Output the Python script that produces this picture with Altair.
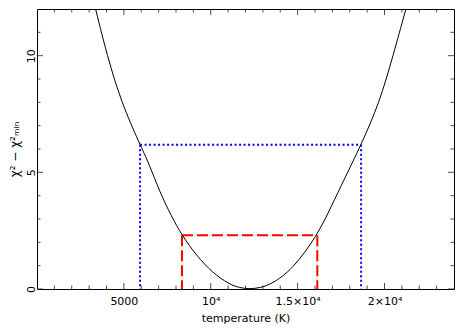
import altair as alt
import pandas as pd

# ---- curve: delta chi^2 versus temperature ----
temperature = [3373, 4038, 4853, 5932, 6430, 7070, 7735, 8343, 9157, 10106,
               11050, 11650, 12250, 12850, 13500, 14700, 16133, 16931, 17688,
               18654, 19717, 20492, 21232]
delta_chi2 = [12.0, 10.0, 8.0, 6.18, 5.40, 4.15, 3.12, 2.30, 1.45, 0.69,
              0.21, 0.05, 0.0, 0.05, 0.21, 0.83, 2.30, 3.53, 4.71,
              6.18, 8.0, 10.0, 12.0]

# ---- confidence intervals ----
ci_names = ["68.3%", "95.4%"]
ci_levels = [2.30, 6.18]
ci_low = [8343, 5932]
ci_high = [16133, 18654]
ci_colors = ["#ff0000", "#0000ff"]
ci_dashes = [[11, 4], [2, 2.5]]

# ---- axes ----
x_domain = [0, 24000]
y_domain = [0, 12]
x_major = [5000, 10000, 15000, 20000]
x_major_labels = ["5000", "10⁴", "1.5×10⁴", "2×10⁴"]
x_minor = [1000, 2000, 3000, 4000, 6000, 7000, 8000, 9000, 11000, 12000,
           13000, 14000, 16000, 17000, 18000, 19000, 21000, 22000, 23000]
y_major = [0, 5, 10]
y_minor = [1, 2, 3, 4, 6, 7, 8, 9, 11]
x_title = "temperature (K)"
y_title = "χ² − χ²ₘᵢₙ"

W, H = 417, 280
FONT = "DejaVu Sans"

xs = alt.Scale(domain=x_domain, nice=False, zero=False)
ys = alt.Scale(domain=y_domain, nice=False, zero=False)

label_expr = " : ".join(
    f"datum.value == {v} ? '{t}'" for v, t in zip(x_major, x_major_labels)
) + " : ''"

x_axis = alt.Axis(values=x_major, labelExpr=label_expr, title=x_title,
                  labelPadding=6, titlePadding=6, labelOverlap=False, labelFlush=False)
y_axis = alt.Axis(values=y_major, title=y_title, labelAngle=270, labelAlign="center",
                  labelBaseline="alphabetic", labelPadding=3, titlePadding=4,
                  labelOverlap=False, labelFlush=False, titleFontSize=12)

curve_df = pd.DataFrame({"T": temperature, "d": delta_chi2})

seg_rows = []
for n, lv, lo, hi in zip(ci_names, ci_levels, ci_low, ci_high):
    seg_rows.append({"name": n, "x": lo, "x2": hi, "y": lv, "y2": lv})
    seg_rows.append({"name": n, "x": lo, "x2": lo, "y": lv, "y2": y_domain[0]})
    seg_rows.append({"name": n, "x": hi, "x2": hi, "y": lv, "y2": y_domain[0]})
seg_df = pd.DataFrame(seg_rows)

xt_rows = []
for kind, vals in (("major", x_major), ("minor", x_minor)):
    for v in vals:
        for e in y_domain:
            xt_rows.append({"v": v, "edge": e, "kind": kind})
xt_df = pd.DataFrame(xt_rows)

yt_rows = []
for kind, vals in (("major", y_major), ("minor", y_minor)):
    for v in vals:
        for e in x_domain:
            yt_rows.append({"v": v, "edge": e, "kind": kind})
yt_df = pd.DataFrame(yt_rows)

tick_size = alt.Size("kind:N", scale=alt.Scale(domain=["major", "minor"], range=[12, 7]), legend=None)

curve = alt.Chart(curve_df).mark_line(
    color="black", strokeWidth=1, interpolate="basis", clip=True
).encode(
    x=alt.X("T:Q", scale=xs, axis=x_axis),
    y=alt.Y("d:Q", scale=ys, axis=y_axis),
)

segments = alt.Chart(seg_df).mark_rule(strokeWidth=2).encode(
    x=alt.X("x:Q", scale=xs, axis=x_axis),
    x2="x2:Q",
    y=alt.Y("y:Q", scale=ys, axis=y_axis),
    y2="y2:Q",
    color=alt.Color("name:N", scale=alt.Scale(domain=ci_names, range=ci_colors), legend=None),
    strokeDash=alt.StrokeDash("name:N", scale=alt.Scale(domain=ci_names, range=ci_dashes), legend=None),
)

xticks = alt.Chart(xt_df).mark_tick(orient="vertical", thickness=1, clip=True, color="black").encode(
    x=alt.X("v:Q", scale=xs, axis=x_axis),
    y=alt.Y("edge:Q", scale=ys, axis=y_axis),
    size=tick_size,
)

yticks = alt.Chart(yt_df).mark_tick(orient="horizontal", thickness=1, clip=True, color="black").encode(
    y=alt.Y("v:Q", scale=ys, axis=y_axis),
    x=alt.X("edge:Q", scale=xs, axis=x_axis),
    size=tick_size,
)

chart = alt.layer(segments, curve, xticks, yticks).properties(
    width=W, height=H,
    padding={"left": 29, "top": 1, "right": 1, "bottom": 36},
    autosize=alt.AutoSizeParams(type="none"),
    background="white",
).configure_view(
    stroke="black", strokeWidth=1
).configure_axis(
    domain=False, ticks=False, grid=False,
    labelFont=FONT, labelFontSize=11, labelColor="black",
    titleFont=FONT, titleFontSize=11, titleColor="black", titleFontWeight="normal",
)

chart.save("out.html", embed_options={"renderer": "svg", "actions": False})
